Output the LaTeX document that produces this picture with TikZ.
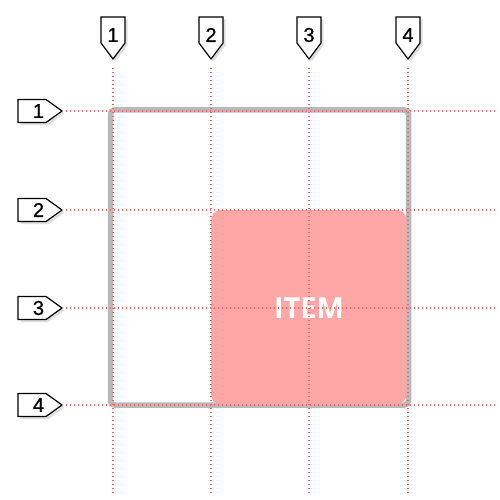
\documentclass[tikz,border=0pt]{standalone}
\usepackage{fontspec}
\setmainfont{Liberation Sans}
\newfontfamily\numfont[FakeBold=0.8]{Liberation Sans}
\newfontfamily\itemfont{Open Sans}
\usetikzlibrary{shadows}
\definecolor{gridred}{RGB}{240,100,100}
\definecolor{framegrey}{RGB}{185,185,185}
\definecolor{itemred}{RGB}{255,166,166}
\tikzset{
  mk/.style={draw=black, line width=1.2pt, fill=white, line join=miter,
    drop shadow={opacity=0.25, shadow xshift=2.5pt, shadow yshift=-2.5pt}},
  num/.style={font=\numfont\fontsize{20}{20}\selectfont, inner sep=0pt},
  gridline/.style={draw=gridred, line width=1.3pt, dash pattern=on 1.3pt off 2.7pt},
  frame/.style={draw=framegrey, line width=5.5pt, rounded corners=4pt},
  itembox/.style={fill=itemred, rounded corners=10pt},
  itemlabel/.style={text=white, font=\itemfont\bfseries\fontsize{29}{29}\selectfont, inner sep=0pt}
}
\begin{document}
\begin{tikzpicture}[x=1pt,y=-1pt]
\useasboundingbox (0,0) rectangle (499,500);
\fill[white] (0,0) rectangle (499,500);
% frame and item
\draw[frame] (110.5,110) rectangle (408.5,405);
\fill[itembox] (211,210) rectangle (406.5,404.5);
\node[itemlabel] (item) at (309,308) {ITEM};
% top markers
\foreach \i/\x in {1/113,2/211,3/309,4/408} {
  \draw[mk] (\x-12,17) -- (\x+12,17) -- (\x+12,43) -- (\x,59) -- (\x-12,43) -- cycle;
  \node[num] (top\i) at (\x,35) {\i};
  \coordinate (vs\i) at (\x,68);
  \coordinate (ve\i) at (\x,495);
}
% left markers
\foreach \i/\y in {1/111,2/210,3/308,4/405} {
  \draw[mk] (18,\y-11.5) -- (46,\y-11.5) -- (62,\y) -- (46,\y+11.5) -- (18,\y+11.5) -- cycle;
  \node[num] (left\i) at (38.5,\y) {\i};
  \coordinate (hs\i) at (66,\y);
  \coordinate (he\i) at (495,\y);
}
% grid lines
\foreach \i in {1,2,3,4} {
  \draw[gridline] (vs\i) -- (ve\i);
  \draw[gridline] (hs\i) -- (he\i);
}
\end{tikzpicture}
\end{document}
